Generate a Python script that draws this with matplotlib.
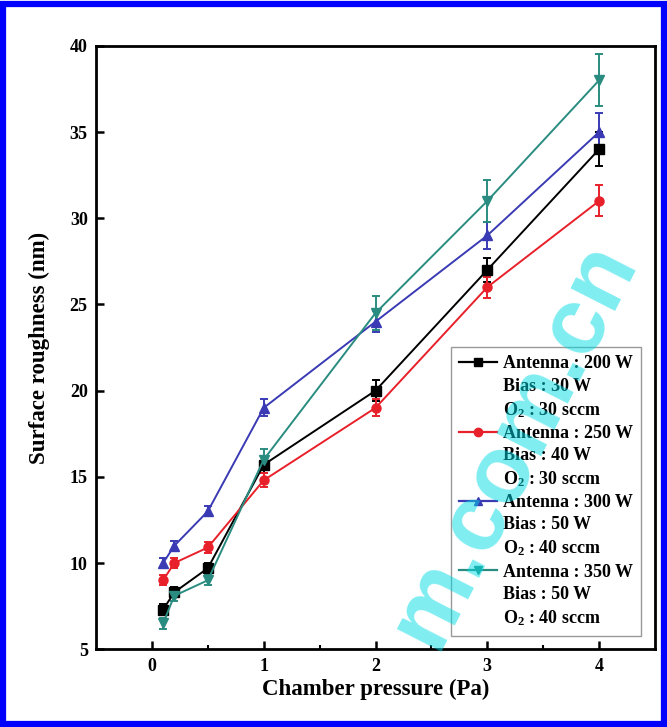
import matplotlib
matplotlib.use("Agg")
import matplotlib.pyplot as plt
from matplotlib.lines import Line2D
from matplotlib.patches import Rectangle

plt.rcParams['font.family'] = ['Liberation Serif', 'DejaVu Serif']
plt.rcParams['font.weight'] = 'bold'
plt.rcParams['mathtext.default'] = 'regular'

# Chamber pressure (Pa)
pressure = [0.1, 0.2, 0.5, 1, 2, 3, 4]

# Surface roughness (nm) and error for each plasma condition
rough_200 = [7.3, 8.3, 9.7, 15.7, 20.0, 27.0, 34.0]
err_200 = [0.3, 0.3, 0.3, 0.5, 0.6, 0.7, 1.0]
rough_250 = [9.0, 10.0, 10.9, 14.8, 19.0, 26.0, 31.0]
err_250 = [0.3, 0.3, 0.3, 0.4, 0.5, 0.6, 0.9]
rough_300 = [10.0, 11.0, 13.0, 19.0, 24.0, 29.0, 35.0]
err_300 = [0.3, 0.3, 0.3, 0.5, 0.6, 0.8, 1.1]
rough_350 = [6.5, 8.1, 9.0, 16.0, 24.5, 31.0, 38.0]
err_350 = [0.3, 0.3, 0.3, 0.6, 1.0, 1.2, 1.5]

labels_200 = ["Antenna : 200 W", "Bias : 30 W", "O$_2$ : 30 sccm"]
labels_250 = ["Antenna : 250 W", "Bias : 40 W", "O$_2$ : 30 sccm"]
labels_300 = ["Antenna : 300 W", "Bias : 50 W", "O$_2$ : 40 sccm"]
labels_350 = ["Antenna : 350 W", "Bias : 50 W", "O$_2$ : 40 sccm"]

x_ticks = [0, 1, 2, 3, 4]
y_ticks = [5, 10, 15, 20, 25, 30, 35, 40]

series = [
    (rough_200, err_200, labels_200, '#000000', 's'),
    (rough_250, err_250, labels_250, '#e8202a', 'o'),
    (rough_300, err_300, labels_300, '#3a3ab4', '^'),
    (rough_350, err_350, labels_350, '#2a8c80', 'v'),
]

fig = plt.figure(figsize=(6.67, 7.27), dpi=100)
ax = fig.add_axes([0.144, 0.107, 0.838, 0.830])

handles, texts = [], []
for y, e, labs, col, mk in series:
    ax.errorbar(pressure, y, yerr=e, color=col, marker=mk, markersize=6.5,
                linewidth=1.4, elinewidth=1.4, capsize=3, capthick=1.4)
    handles.append(Line2D([], [], color=col, marker=mk, markersize=6, linewidth=1.6))
    texts.append(labs[0])
    for extra in labs[1:]:
        handles.append(Line2D([], [], color='none'))
        texts.append(extra)

ax.set_xlim(-0.5, 4.5)
ax.set_ylim(5, 40)
ax.set_xticks(x_ticks)
ax.set_xticks([0.5, 1.5, 2.5, 3.5], minor=True)
ax.set_yticks(y_ticks)
ax.tick_params(axis='both', which='major', direction='in', length=6, width=1.8,
               labelsize=13, pad=6)
ax.tick_params(axis='x', which='minor', direction='in', length=3, width=1.5)
for sp in ax.spines.values():
    sp.set_linewidth(2)

ax.set_xlabel("Chamber pressure (Pa)", fontsize=16.5, fontweight='bold', labelpad=3)
ax.set_ylabel("Surface roughness (nm)", fontsize=16.5, fontweight='bold', labelpad=14)

leg = ax.legend(handles, texts, loc='lower right', bbox_to_anchor=(0.975, 0.022),
                fontsize=13, frameon=True, fancybox=False, edgecolor='#808080',
                handlelength=2.1, handletextpad=0.35, labelspacing=0.29,
                borderpad=0.45, borderaxespad=0)
leg.get_frame().set_linewidth(1.0)
for t in leg.get_texts():
    t.set_fontweight('bold')

# Watermark
fig.text(0.77, 0.39, "m.com.cn", rotation=63, fontsize=68, color='#00dbe4',
         alpha=0.5, family='Liberation Sans', ha='center', va='center', zorder=10)

# Blue frame
fig.patches.append(Rectangle((0.004, 0.004), 0.992, 0.990, transform=fig.transFigure,
                             fill=False, edgecolor='#0000ff', linewidth=4.5, zorder=20))

fig.savefig("out.png", dpi=100)
